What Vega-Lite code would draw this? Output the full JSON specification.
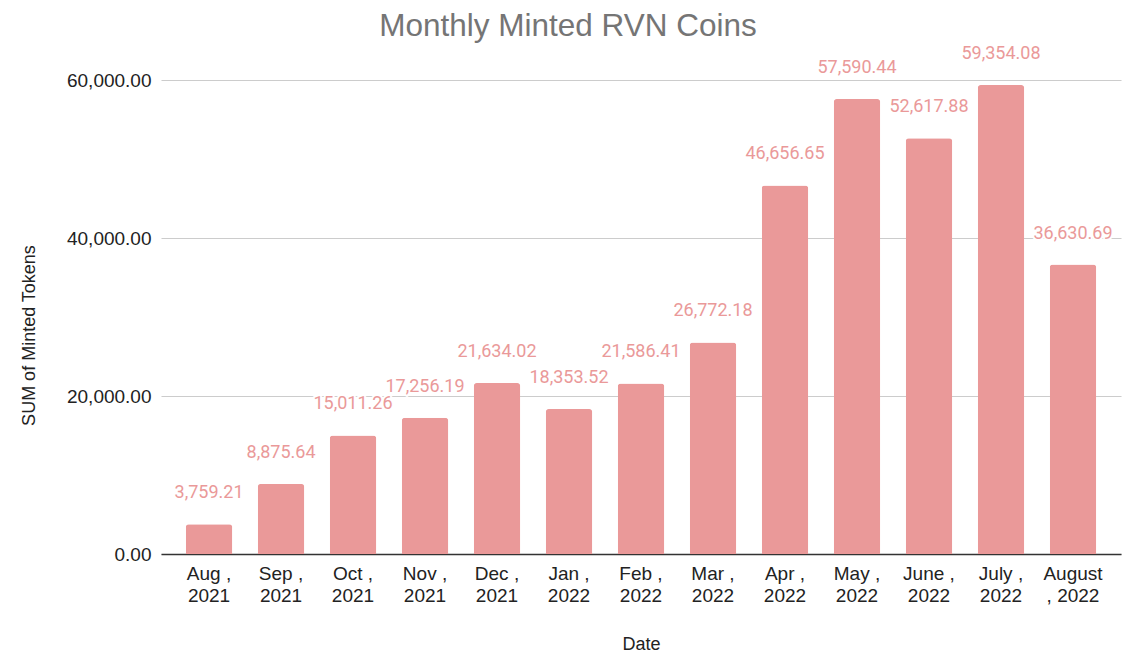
{
  "$schema": "https://vega.github.io/schema/vega-lite/v6.json",
  "autosize": "none",
  "width": 960,
  "height": 474,
  "padding": {"left": 161, "top": 80, "right": 7, "bottom": 105},
  "background": "white",
  "title": {
    "text": "Monthly Minted RVN Coins",
    "font": "Liberation Sans",
    "fontSize": 31.5,
    "fontWeight": "normal",
    "color": "#757575",
    "anchor": "middle",
    "offset": 3,
    "dx": -73
  },
  "config": {
    "view": {"stroke": null},
    "axis": {
      "labelFont": "Liberation Sans",
      "titleFont": "Liberation Sans",
      "labelFontSize": 19,
      "titleFontSize": 18,
      "labelColor": "#222222",
      "titleColor": "#222222",
      "titleFontWeight": "normal"
    }
  },
  "data": {
    "values": [
      {"month": "Aug , 2021", "tokens": 3759.21},
      {"month": "Sep , 2021", "tokens": 8875.64},
      {"month": "Oct , 2021", "tokens": 15011.26},
      {"month": "Nov , 2021", "tokens": 17256.19},
      {"month": "Dec , 2021", "tokens": 21634.02},
      {"month": "Jan , 2022", "tokens": 18353.52},
      {"month": "Feb , 2022", "tokens": 21586.41},
      {"month": "Mar , 2022", "tokens": 26772.18},
      {"month": "Apr , 2022", "tokens": 46656.65},
      {"month": "May , 2022", "tokens": 57590.44},
      {"month": "June , 2022", "tokens": 52617.88},
      {"month": "July , 2022", "tokens": 59354.08},
      {"month": "August , 2022", "tokens": 36630.69}
    ]
  },
  "encoding": {
    "x": {
      "field": "month",
      "type": "nominal",
      "sort": null,
      "scale": {"paddingInner": 0.354, "paddingOuter": 0.344},
      "axis": {
        "title": "Date",
        "titlePadding": 30,
        "labelAngle": 0,
        "labelBaseline": "top",
        "labelPadding": 10,
        "labelLineHeight": 22,
        "labelExpr": "datum.label == 'August , 2022' ? ['August', ', 2022'] : [slice(datum.label, 0, -5), slice(datum.label, -4)]",
        "ticks": false,
        "domainColor": "#333333",
        "domainWidth": 1.5,
        "grid": false
      }
    },
    "y": {
      "field": "tokens",
      "type": "quantitative",
      "scale": {"domain": [0, 60000], "nice": false},
      "axis": {
        "title": "SUM of Minted Tokens",
        "titlePadding": 28,
        "titleY": 255,
        "values": [0, 20000, 40000, 60000],
        "format": ",.2f",
        "ticks": false,
        "domain": false,
        "labelPadding": 10,
        "gridColor": "#cccccc",
        "gridWidth": 1.2
      }
    }
  },
  "layer": [
    {
      "mark": {"type": "bar", "color": "#ea9999", "cornerRadiusTopLeft": 3, "cornerRadiusTopRight": 3}
    },
    {
      "mark": {"type": "text", "font": "Roboto", "fontSize": 18, "baseline": "middle", "dy": -31, "fill": "white", "stroke": "white", "strokeWidth": 4},
      "encoding": {"text": {"field": "tokens", "type": "quantitative", "format": ",.2f"}}
    },
    {
      "mark": {"type": "text", "font": "Roboto", "fontSize": 18, "baseline": "middle", "dy": -31, "color": "#ea9999"},
      "encoding": {"text": {"field": "tokens", "type": "quantitative", "format": ",.2f"}}
    }
  ]
}
